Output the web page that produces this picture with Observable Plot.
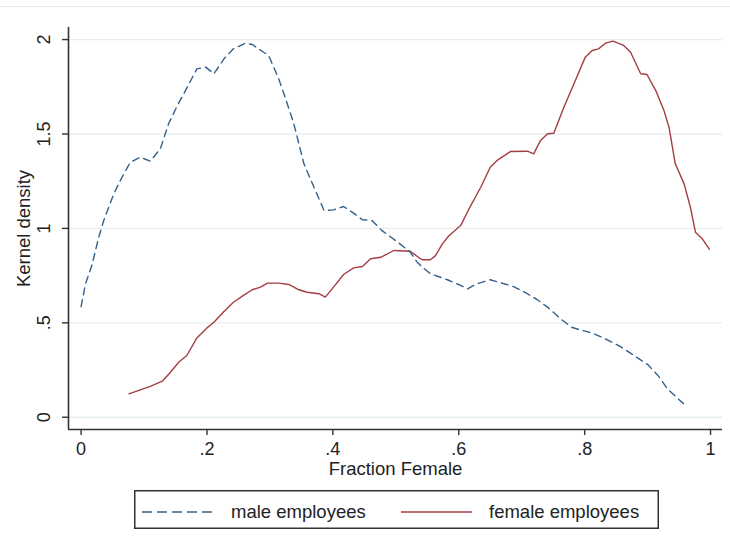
<!DOCTYPE html>
<html><head><meta charset="utf-8">
<script src="https://cdn.jsdelivr.net/npm/d3@7"></script>
<script src="https://cdn.jsdelivr.net/npm/@observablehq/plot@0.6"></script>
<style>
body{margin:0;background:#fff;font-family:"Liberation Sans",Arial,sans-serif;}
#wrap{position:relative;width:730px;height:547px;overflow:hidden;background:#fff;}
#chart{position:absolute;left:0;top:0;}
#topline{position:absolute;left:0;top:6px;width:730px;height:1px;background:#e2e8ea;}
#legend{position:absolute;left:134px;top:490px;}
</style></head><body>
<div id="wrap"><div id="chart"></div><div id="topline"></div><svg id="legend" width="526" height="40"></svg></div>
<script>
const maleX = [0.000,0.007,0.017,0.028,0.036,0.052,0.062,0.078,0.094,0.110,0.126,0.139,0.153,0.166,0.184,0.198,0.211,0.227,0.242,0.261,0.272,0.290,0.298,0.314,0.325,0.338,0.346,0.354,0.370,0.386,0.401,0.417,0.433,0.447,0.462,0.478,0.504,0.523,0.534,0.542,0.555,0.582,0.603,0.614,0.629,0.650,0.672,0.687,0.709,0.725,0.741,0.762,0.780,0.813,0.836,0.857,0.877,0.901,0.918,0.931,0.945,0.957];
const maleY = [0.586,0.707,0.803,0.953,1.042,1.183,1.252,1.350,1.377,1.356,1.422,1.554,1.651,1.731,1.845,1.854,1.819,1.898,1.951,1.981,1.974,1.933,1.916,1.792,1.686,1.554,1.448,1.342,1.218,1.095,1.098,1.116,1.081,1.046,1.042,0.988,0.925,0.874,0.821,0.795,0.760,0.728,0.698,0.680,0.707,0.728,0.707,0.692,0.654,0.622,0.583,0.521,0.475,0.445,0.410,0.374,0.330,0.277,0.215,0.152,0.108,0.072];
const femaleX = [0.076,0.094,0.110,0.129,0.142,0.155,0.168,0.184,0.200,0.211,0.227,0.242,0.258,0.272,0.285,0.296,0.314,0.330,0.346,0.359,0.378,0.388,0.401,0.417,0.433,0.447,0.460,0.476,0.497,0.523,0.536,0.542,0.555,0.563,0.574,0.584,0.603,0.619,0.635,0.650,0.661,0.682,0.709,0.719,0.730,0.741,0.751,0.767,0.783,0.801,0.812,0.822,0.833,0.845,0.862,0.873,0.889,0.899,0.913,0.926,0.934,0.944,0.958,0.968,0.976,0.987,0.998];
const femaleY = [0.124,0.145,0.163,0.191,0.238,0.291,0.327,0.420,0.473,0.503,0.560,0.609,0.645,0.675,0.689,0.710,0.710,0.703,0.675,0.662,0.654,0.636,0.689,0.756,0.791,0.798,0.839,0.847,0.883,0.879,0.847,0.834,0.834,0.856,0.918,0.960,1.015,1.121,1.218,1.324,1.360,1.407,1.409,1.395,1.466,1.501,1.504,1.642,1.766,1.907,1.942,1.951,1.981,1.992,1.969,1.933,1.819,1.815,1.730,1.624,1.536,1.342,1.236,1.112,0.980,0.945,0.890];
const xTicks = [0,0.2,0.4,0.6,0.8,1];
const xTickLabels = ["0",".2",".4",".6",".8","1"];
const yTicks = [0,0.5,1,1.5,2];
const yTickLabels = ["0",".5","1","1.5","2"];
const seriesNames = ["male employees","female employees"];
const xLabel = "Fraction Female";
const yLabel = "Kernel density";
const maleColor = "#33608c", femaleColor = "#a53d43";

const male = maleX.map((x,i)=>({x, y:maleY[i]}));
const female = femaleX.map((x,i)=>({x, y:femaleY[i]}));
const xDom = [-0.02, 1.019], yDom = [-0.065, 2.064];
const font = "Liberation Sans, Arial, sans-serif";

const plot = Plot.plot({
  width: 730, height: 480,
  marginLeft: 68, marginRight: 8, marginTop: 27, marginBottom: 51,
  x: {domain: xDom}, y: {domain: yDom},
  style: {fontFamily: font, background: "transparent", color: "#222"},
  marks: [
    Plot.ruleY(yTicks, {stroke: "#e6eff0", strokeWidth: 1.3}),
    Plot.line(female, {x: "x", y: "y", stroke: femaleColor, strokeWidth: 1.4}),
    Plot.line(male, {x: "x", y: "y", stroke: maleColor, strokeWidth: 1.4, strokeDasharray: "7,5"}),
    Plot.ruleY([yDom[0]], {stroke: "#333", strokeWidth: 1.6}),
    Plot.ruleX([xDom[0]], {stroke: "#333", strokeWidth: 1.6}),
    Plot.axisX({ticks: xTicks, tickSize: 6, tickFormat: () => "", label: null, stroke: "#333", strokeWidth: 1.4}),
    Plot.axisY({ticks: yTicks, tickSize: 6, tickFormat: () => "", label: null, stroke: "#333", strokeWidth: 1.4}),
    Plot.text(xTicks, {x: d => d, frameAnchor: "bottom", dy: 20, text: (d,i) => xTickLabels[i], fontSize: 18, fill: "#222", lineAnchor: "middle"}),
    Plot.text(yTicks, {y: d => d, frameAnchor: "left", dx: -24, rotate: -90, text: (d,i) => yTickLabels[i], fontSize: 18, fill: "#222", lineAnchor: "middle", textAnchor: "middle"}),
    Plot.text([xLabel], {frameAnchor: "bottom", dy: 40, text: d => d, fontSize: 18.5, fill: "#222", lineAnchor: "middle"}),
    Plot.text([yLabel], {frameAnchor: "left", dx: -44, rotate: -90, text: d => d, fontSize: 18.5, fill: "#222", lineAnchor: "middle", textAnchor: "middle"})
  ]
});
document.getElementById("chart").appendChild(plot);

// legend
const lg = d3.select("#legend");
lg.append("rect").attr("x", 0.75).attr("y", 0.75).attr("width", 523.5).attr("height", 37.5)
  .attr("fill", "#fff").attr("stroke", "#333").attr("stroke-width", 1.5);
const items = [
  {name: seriesNames[0], color: maleColor, dash: "10,5", x0: 8, x1: 80, tx: 97},
  {name: seriesNames[1], color: femaleColor, dash: null, x0: 267, x1: 338, tx: 355}
];
items.forEach(it => {
  lg.append("line").attr("x1", it.x0).attr("x2", it.x1).attr("y1", 22).attr("y2", 22)
    .attr("stroke", it.color).attr("stroke-width", 1.4).attr("stroke-dasharray", it.dash);
  lg.append("text").attr("x", it.tx).attr("y", 22).attr("dy", "0.35em")
    .attr("font-family", font).attr("font-size", 18.5).attr("fill", "#222").text(it.name);
});
</script>
</body></html>
